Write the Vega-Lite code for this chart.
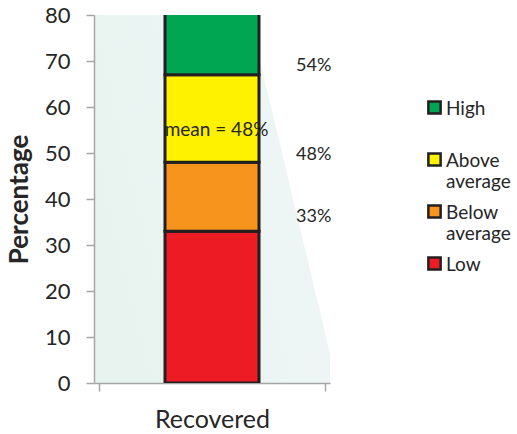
{
  "$schema": "https://vega.github.io/schema/vega-lite/v6.json",
  "width": 236,
  "height": 368,
  "autosize": {"type": "none"},
  "padding": {"left": 94, "top": 15, "right": 187, "bottom": 51},
  "background": "#ffffff",
  "config": {
    "font": "Lato",
    "view": {
      "stroke": null,
      "fill": {
        "gradient": "linear",
        "x1": 0, "y1": 0.5, "x2": 1, "y2": 0.127,
        "stops": [
          {"offset": 0, "color": "#e8f3f0"},
          {"offset": 0.739, "color": "#edf6f4"},
          {"offset": 0.742, "color": "#ffffff"},
          {"offset": 1, "color": "#ffffff"}
        ]
      }
    },
    "axis": {
      "domainColor": "#a6a6a6",
      "domainWidth": 1.5,
      "tickColor": "#a6a6a6",
      "tickWidth": 1.5,
      "tickSize": 8,
      "grid": false,
      "labelColor": "#262626",
      "titleColor": "#262626"
    }
  },
  "datasets": {
    "bands": [
      {"group": "Recovered", "level": "Low", "start": 0, "end": 33},
      {"group": "Recovered", "level": "Below average", "start": 33, "end": 48},
      {"group": "Recovered", "level": "Above average", "start": 48, "end": 67},
      {"group": "Recovered", "level": "High", "start": 67, "end": 100}
    ],
    "notes": [
      {"text": "54%", "xpos": 0.95, "ypos": 69},
      {"text": "48%", "xpos": 0.95, "ypos": 49.6},
      {"text": "33%", "xpos": 0.95, "ypos": 36}
    ],
    "meanNote": [
      {"text": "mean = 48%", "xpos": 0.52, "ypos": 55}
    ]
  },
  "layer": [
    {
      "data": {"name": "bands"},
      "mark": {"type": "bar", "size": 94, "stroke": "#231f20", "strokeWidth": 3, "clip": true},
      "encoding": {
        "x": {
          "datum": 0.5,
          "type": "quantitative",
          "scale": {"domain": [0, 1], "nice": false, "zero": false},
          "axis": {
            "values": [0, 1],
            "labels": false,
            "title": "Recovered",
            "titleFontSize": 25,
            "titleFontWeight": "normal",
            "titlePadding": 16
          }
        },
        "y": {
          "field": "start",
          "type": "quantitative",
          "scale": {"domain": [0, 80], "nice": false},
          "axis": {
            "values": [0, 10, 20, 30, 40, 50, 60, 70, 80],
            "labelFontSize": 22,
            "labelPadding": 16,
            "title": "Percentage",
            "titleFontSize": 26,
            "titleFontWeight": "bold",
            "titlePadding": 12
          }
        },
        "y2": {"field": "end"},
        "color": {
          "field": "level",
          "type": "nominal",
          "scale": {
            "domain": ["High", "Above average", "Below average", "Low"],
            "range": ["#00a651", "#fff200", "#f7941d", "#ed1c24"]
          },
          "legend": {
            "title": null,
            "orient": "none",
            "legendX": 331,
            "legendY": 83,
            "gridAlign": "all",
            "symbolType": "square",
            "symbolSize": 150,
            "symbolStrokeColor": "#231f20",
            "symbolStrokeWidth": 2.5,
            "symbolOpacity": 1,
            "labelFontSize": 19,
            "labelColor": "#262626",
            "labelOffset": 2,
            "labelBaseline": "alphabetic",
            "labelLimit": 120,
            "rowPadding": 8,
            "labelExpr": "datum.label == 'Above average' ? ['Above', 'average'] : datum.label == 'Below average' ? ['Below', 'average'] : datum.label",
            "encode": {
              "labels": {"update": {"dy": {"value": 7}}}
            }
          }
        }
      }
    },
    {
      "data": {"name": "notes"},
      "mark": {"type": "text", "fontSize": 18, "color": "#262626", "align": "center", "baseline": "middle"},
      "encoding": {
        "x": {"field": "xpos", "type": "quantitative"},
        "y": {"field": "ypos", "type": "quantitative"},
        "text": {"field": "text"}
      }
    },
    {
      "data": {"name": "meanNote"},
      "mark": {"type": "text", "fontSize": 19, "color": "#262626", "align": "center", "baseline": "middle"},
      "encoding": {
        "x": {"field": "xpos", "type": "quantitative"},
        "y": {"field": "ypos", "type": "quantitative"},
        "text": {"field": "text"}
      }
    }
  ]
}
